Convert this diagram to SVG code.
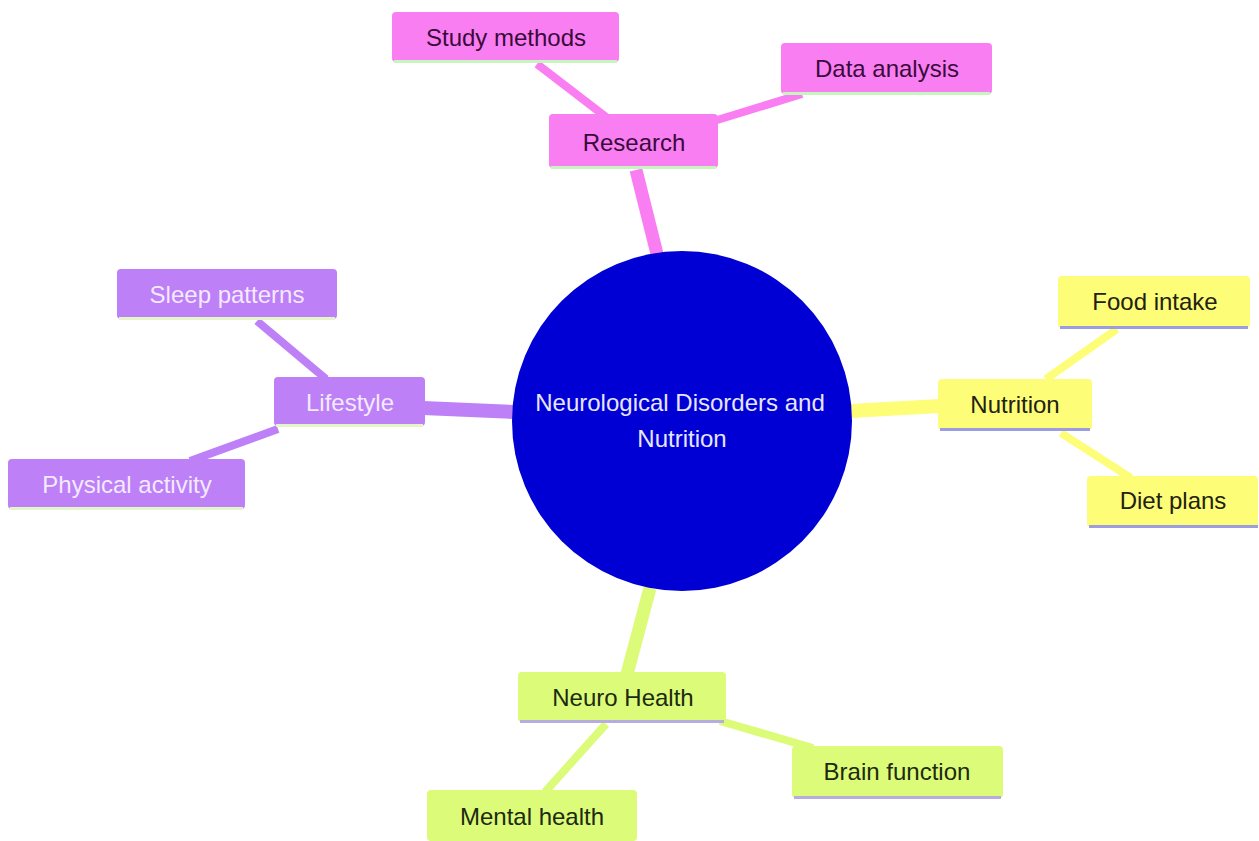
<svg xmlns="http://www.w3.org/2000/svg" width="1259" height="841" viewBox="0 0 1259 841">
<style>
text{font-family:"Liberation Sans",Arial,sans-serif;font-size:24px;text-anchor:middle;dominant-baseline:central}
.e{fill:none;stroke-linecap:butt}
.pink{fill:#f97ef2}
.pinkS{stroke:#f97ef2}
.purp{fill:#bd80f7}
.purpS{stroke:#bd80f7}
.yel{fill:#fdfd78}
.yelS{stroke:#fdfd78}
.grn{fill:#dcfb78}
.grnS{stroke:#dcfb78}
.tp{fill:#3a0a3a}
.tl{fill:#f3eaff}
.ty{fill:#222211}
.tg{fill:#1c2a10}
</style>
<rect width="1259" height="841" fill="#ffffff"/>
<g id="connectors">
<line class="e pinkS" x1="636" y1="170" x2="657" y2="254" stroke-width="13"/>
<line class="e pinkS" x1="537" y1="64" x2="606" y2="117" stroke-width="8"/>
<line class="e pinkS" x1="802" y1="94" x2="714" y2="121" stroke-width="8"/>
<line class="e purpS" x1="423" y1="408" x2="514" y2="412" stroke-width="14"/>
<line class="e purpS" x1="257" y1="321" x2="326" y2="379" stroke-width="8"/>
<line class="e purpS" x1="278" y1="429" x2="190" y2="461" stroke-width="8"/>
<line class="e yelS" x1="850" y1="411" x2="940" y2="406" stroke-width="14"/>
<line class="e yelS" x1="1117" y1="329" x2="1046" y2="379" stroke-width="8"/>
<line class="e yelS" x1="1061" y1="433" x2="1131" y2="478" stroke-width="8"/>
<line class="e grnS" x1="650" y1="588" x2="627" y2="674" stroke-width="13"/>
<line class="e grnS" x1="720" y1="721" x2="813" y2="748" stroke-width="8"/>
<line class="e grnS" x1="606" y1="724" x2="545" y2="792" stroke-width="8"/>
</g>
<g id="root">
<circle cx="682" cy="421" r="170" fill="#0000d4"/>
<text x="680" y="402" fill="#e6e6ff">Neurological Disorders and</text>
<text x="682" y="438" fill="#e6e6ff">Nutrition</text>
</g>
<g id="research">
<rect class="pink" x="549" y="114" width="169" height="54" rx="4"/>
<rect x="551" y="166" width="165" height="3" fill="#c8f4c0"/>
<text class="tp" x="634" y="142">Research</text>
</g>
<g id="study-methods">
<rect class="pink" x="392" y="12" width="227" height="50" rx="4"/>
<rect x="394" y="60" width="223" height="3" fill="#c8f4c0"/>
<text class="tp" x="506" y="37">Study methods</text>
</g>
<g id="data-analysis">
<rect class="pink" x="781" y="43" width="211" height="51" rx="4"/>
<rect x="783" y="92" width="207" height="3" fill="#c8f4c0"/>
<text class="tp" x="887" y="68">Data analysis</text>
</g>
<g id="lifestyle">
<rect class="purp" x="274" y="377" width="151" height="49" rx="4"/>
<rect x="276" y="424" width="147" height="3" fill="#e4f6c8"/>
<text class="tl" x="350" y="402">Lifestyle</text>
</g>
<g id="sleep-patterns">
<rect class="purp" x="117" y="269" width="220" height="50" rx="4"/>
<rect x="119" y="317" width="216" height="3" fill="#e4f6c8"/>
<text class="tl" x="227" y="294">Sleep patterns</text>
</g>
<g id="physical-activity">
<rect class="purp" x="8" y="459" width="237" height="50" rx="4"/>
<rect x="10" y="507" width="233" height="3" fill="#e4f6c8"/>
<text class="tl" x="127" y="484">Physical activity</text>
</g>
<g id="nutrition">
<rect class="yel" x="938" y="379" width="154" height="51" rx="4"/>
<rect x="940" y="428" width="150" height="3" fill="#9c9ce0"/>
<text class="ty" x="1015" y="404">Nutrition</text>
</g>
<g id="food-intake">
<rect class="yel" x="1058" y="276" width="192" height="52" rx="4"/>
<rect x="1060" y="326" width="188" height="3" fill="#9c9ce0"/>
<text class="ty" x="1155" y="301">Food intake</text>
</g>
<g id="diet-plans">
<rect class="yel" x="1087" y="476" width="171" height="51" rx="4"/>
<rect x="1089" y="525" width="169" height="3" fill="#9c9ce0"/>
<text class="ty" x="1173" y="500">Diet plans</text>
</g>
<g id="neuro-health">
<rect class="grn" x="518" y="672" width="208" height="50" rx="4"/>
<rect x="520" y="720" width="204" height="3" fill="#b7acdf"/>
<text class="tg" x="623" y="697">Neuro Health</text>
</g>
<g id="brain-function">
<rect class="grn" x="792" y="746" width="211" height="52" rx="4"/>
<rect x="794" y="796" width="207" height="3" fill="#b7acdf"/>
<text class="tg" x="897" y="771">Brain function</text>
</g>
<g id="mental-health">
<rect class="grn" x="427" y="790" width="210" height="51" rx="4"/>
<text class="tg" x="532" y="816">Mental health</text>
</g>
</svg>
